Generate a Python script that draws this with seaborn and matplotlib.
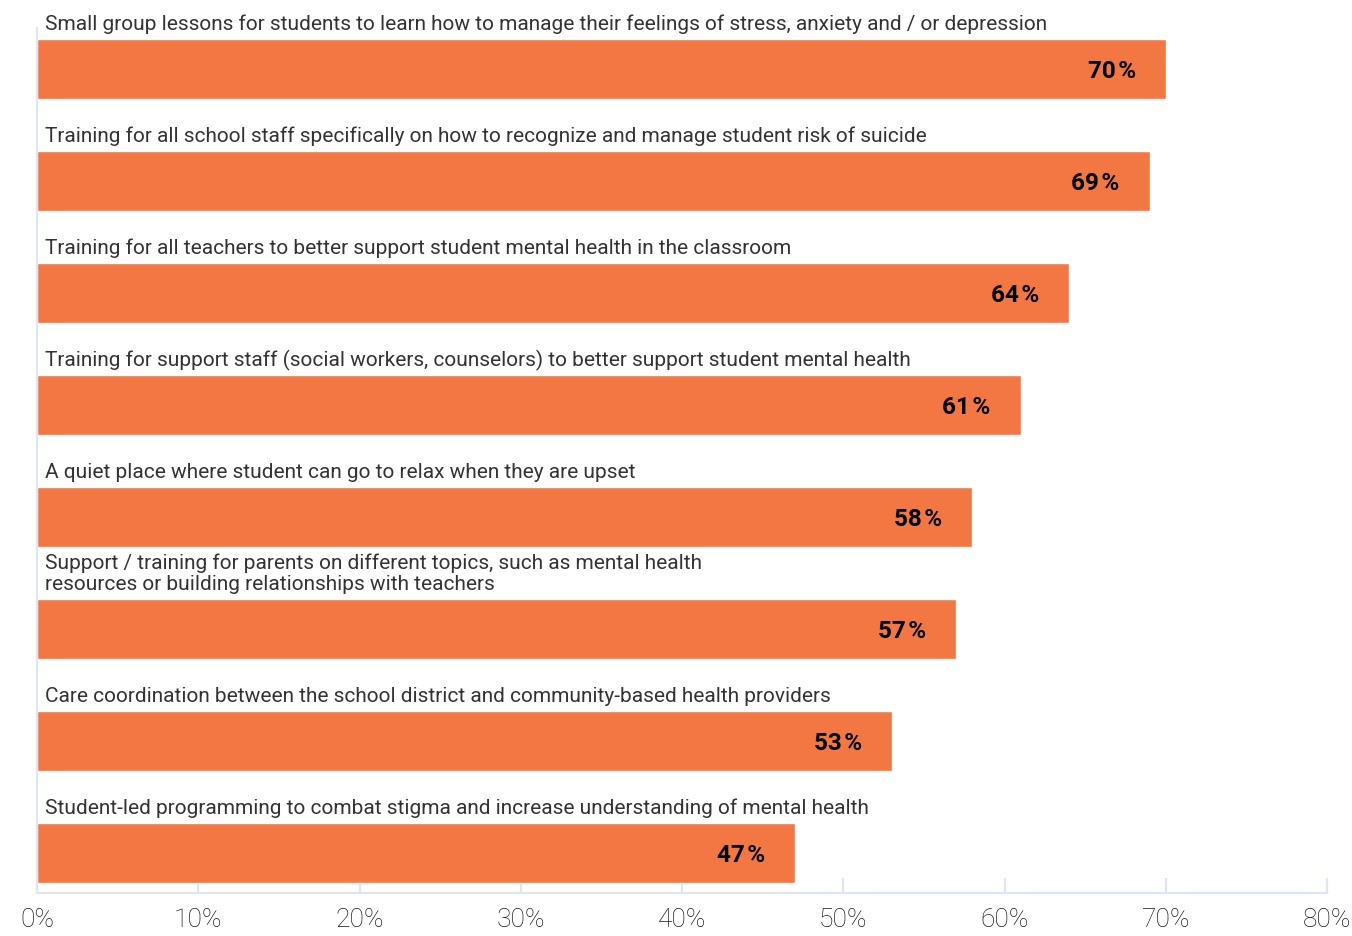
import matplotlib
matplotlib.use("Agg")
import matplotlib.pyplot as plt
import pandas as pd
import seaborn as sns

CATEGORIES = [
    "Small group lessons for students to learn how to manage their feelings of stress, anxiety and / or depression",
    "Training for all school staff specifically on how to recognize and manage student risk of suicide",
    "Training for all teachers to better support student mental health in the classroom",
    "Training for support staff (social workers, counselors) to better support student mental health",
    "A quiet place where student can go to relax when they are upset",
    "Support / training for parents on different topics, such as mental health\nresources or building relationships with teachers",
    "Care coordination between the school district and community-based health providers",
    "Student-led programming to combat stigma and increase understanding of mental health",
]
VALUES = [70, 69, 64, 61, 58, 57, 53, 47]
X_TICKS = [0, 10, 20, 30, 40, 50, 60, 70, 80]

BAR_COLOR = "#F37742"
AXIS_COLOR = "#DCE6F5"
BAR_WIDTH = 0.536


def main() -> None:
    sns.set_theme(style="white")
    plt.rcParams["font.family"] = ["Roboto", "DejaVu Sans"]

    df = pd.DataFrame({"item": CATEGORIES, "pct": VALUES})

    fig = plt.figure(figsize=(13.52, 9.36), dpi=100)
    ax = fig.add_axes([37 / 1352, 1 - 893 / 936, 1290 / 1352, (893 - 28) / 936])

    sns.barplot(
        data=df,
        x="pct",
        y="item",
        order=CATEGORIES,
        color=BAR_COLOR,
        saturation=1,
        width=BAR_WIDTH,
        ax=ax,
    )

    ax.set_xlim(0, 80)
    ax.set_ylim(len(CATEGORIES) - 1 + 40 / 112, -41 / 112)
    ax.set_xticks(X_TICKS)
    ax.set_xticklabels([f"{t}%" for t in X_TICKS], fontsize=19, color="#1a1a1a",
                       fontweight="light")
    ax.set_yticks([])
    ax.set_xlabel("")
    ax.set_ylabel("")
    ax.tick_params(axis="x", bottom=True, direction="in", length=11, width=1.6,
                   color=AXIS_COLOR, pad=11)

    for side in ("top", "right"):
        ax.spines[side].set_visible(False)
    for side in ("left", "bottom"):
        ax.spines[side].set_color(AXIS_COLOR)
        ax.spines[side].set_linewidth(1.6)

    for i, (name, val) in enumerate(zip(CATEGORIES, VALUES)):
        ax.annotate(
            name,
            xy=(0, i - BAR_WIDTH / 2),
            xytext=(8, 9),
            textcoords="offset pixels",
            ha="left",
            va="baseline",
            fontsize=15.0,
            color="#333333",
            linespacing=1.12,
        )
        ax.annotate(
            f"{val}\u200a%",
            xy=(val, i),
            xytext=(-30, -2),
            textcoords="offset pixels",
            ha="right",
            va="center",
            fontsize=17.5,
            fontweight="bold",
            color="black",
        )

    fig.savefig("out.png", dpi=100)
    plt.close(fig)


if __name__ == "__main__":
    main()
